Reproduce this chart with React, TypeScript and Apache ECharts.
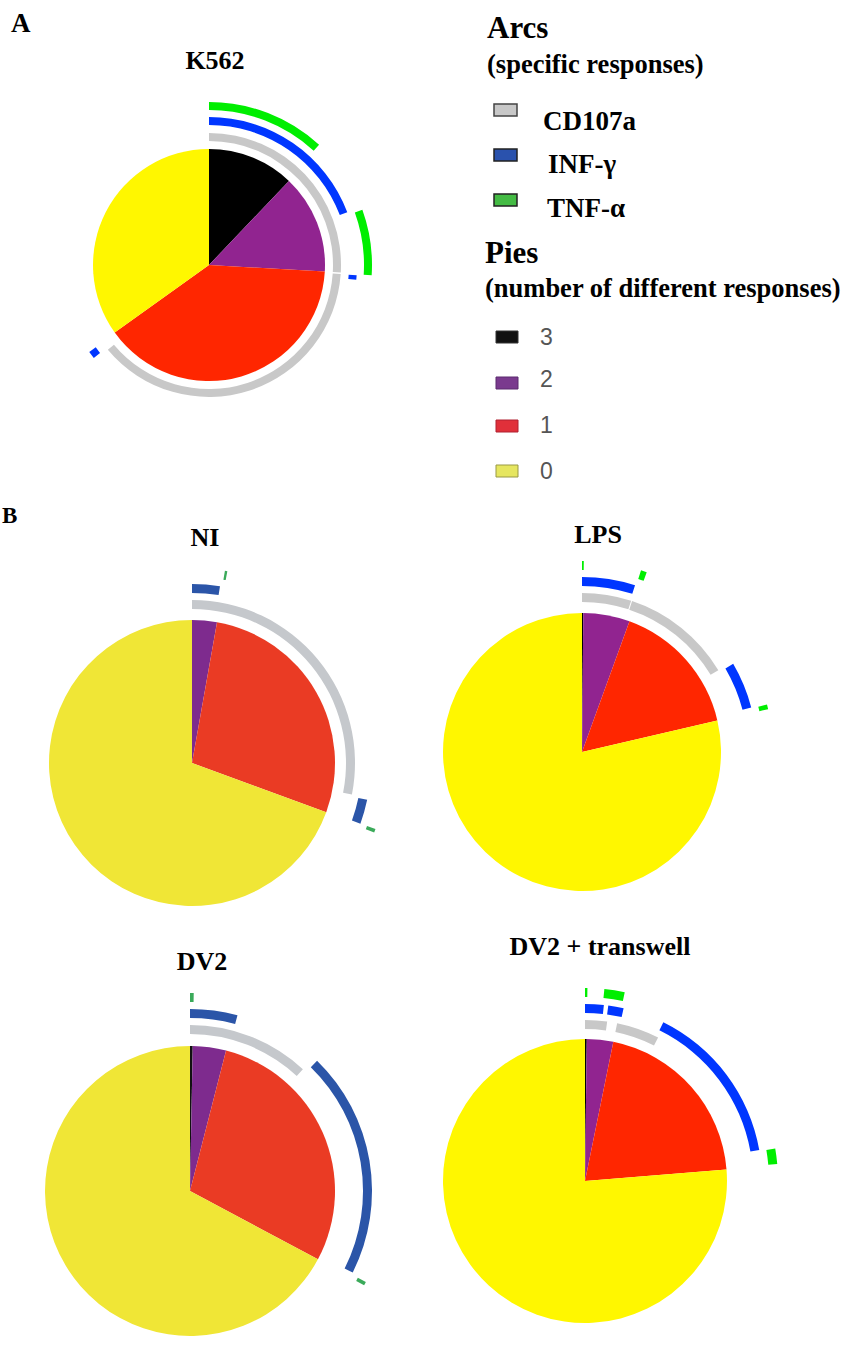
import React, { useEffect, useRef } from "react";
import * as echarts from "echarts";

// ---------- data ----------
const PANEL_TITLES = ["K562", "NI", "LPS", "DV2", "DV2 + transwell"];
const PIE_CATEGORIES = ["3", "2", "1", "0"];
const ARC_MARKERS = ["CD107a", "INF-γ", "TNF-α"];

// pie slices (% of cells) in order 3, 2, 1, 0 responses
const K562_PIE = [12.1, 13.8, 39.2, 34.9];
const NI_PIE = [0, 2.8, 27.8, 69.4];
const LPS_PIE = [0.15, 5.4, 15.8, 78.65];
const DV2_PIE = [0.3, 3.7, 28.8, 67.2];
const DV2TW_PIE = [0.2, 3.0, 20.5, 76.3];

// arcs: [start %, end %] of the pie covered by each marker
const K562_CD107A = [[0, 25.9], [26.1, 63.9]];
const K562_IFNG = [[0, 19.2], [26.1, 26.6], [64.2, 65.0]];
const K562_TNFA = [[0, 11.8], [19.5, 26.0]];

const NI_CD107A = [[0, 28.1]];
const NI_IFNG = [[0, 2.5], [28.3, 30.5]];
const NI_TNFA = [[2.7, 2.9], [30.5, 30.8]];

const LPS_CD107A = [[0, 5.0], [5.1, 16.4]];
const LPS_IFNG = [[0, 4.9], [16.6, 20.9]];
const LPS_TNFA = [[0, 0.15], [5.0, 5.5], [21.0, 21.4]];

const DV2_CD107A = [[0, 11.9]];
const DV2_IFNG = [[0, 4.2], [12.3, 32.4]];
const DV2_TNFA = [[0, 0.3], [32.6, 32.9]];

const DV2TW_CD107A = [[0, 2.2], [3.2, 7.5]];
const DV2TW_IFNG = [[0, 1.7], [2.1, 3.5], [7.3, 22.2]];
const DV2TW_TNFA = [[0, 0.2], [1.6, 3.3], [22.3, 23.6]];

const PIES = [K562_PIE, NI_PIE, LPS_PIE, DV2_PIE, DV2TW_PIE];
const ARCS = [
  [K562_CD107A, K562_IFNG, K562_TNFA],
  [NI_CD107A, NI_IFNG, NI_TNFA],
  [LPS_CD107A, LPS_IFNG, LPS_TNFA],
  [DV2_CD107A, DV2_IFNG, DV2_TNFA],
  [DV2TW_CD107A, DV2TW_IFNG, DV2TW_TNFA],
];

// ---------- layout & styles ----------
const BRIGHT = {
  pie: ["#000000", "#912490", "#ff2600", "#fff700"],
  arcs: ["#c8c8c8", "#0036ff", "#00ee00"],
};
const MUTED = {
  pie: ["#111111", "#7e2b8e", "#ea3b24", "#f0e636"],
  arcs: ["#c5c8cc", "#2b55a8", "#3baa5a"],
};
const LAYOUT = [
  { cx: 209, cy: 265, r: 116, rings: [[124, 132], [140, 148], [155, 163]], pal: BRIGHT, tx: 215, ty: 60 },
  { cx: 192, cy: 763, r: 143, rings: [[154, 163], [170, 179], [186, 195]], pal: MUTED, tx: 205, ty: 537 },
  { cx: 582, cy: 752, r: 139, rings: [[150, 159], [166, 175], [182, 191]], pal: BRIGHT, tx: 598, ty: 534 },
  { cx: 190, cy: 1191, r: 145, rings: [[157, 166], [173, 182], [189, 198]], pal: MUTED, tx: 202, ty: 961 },
  { cx: 585, cy: 1181, r: 142, rings: [[152, 161], [168, 177], [184, 193]], pal: BRIGHT, tx: 600, ty: 946 },
];

const SERIF = '"Liberation Serif", "Times New Roman", serif';
const SANS = '"Liberation Sans", Arial, sans-serif';

function arcData(segs: number[][], color: string) {
  const out: any[] = [];
  let pos = 0;
  for (const [s, e] of segs) {
    if (s > pos) out.push({ value: s - pos, itemStyle: { color: "rgba(0,0,0,0)", borderWidth: 0 } });
    out.push({ value: e - s, itemStyle: { color, borderWidth: 0 } });
    pos = e;
  }
  if (pos < 100) out.push({ value: 100 - pos, itemStyle: { color: "rgba(0,0,0,0)", borderWidth: 0 } });
  return out;
}

const COMMON_PIE = {
  type: "pie",
  silent: true,
  startAngle: 90,
  clockwise: true,
  minAngle: 0,
  avoidLabelOverlap: false,
  label: { show: false },
  labelLine: { show: false },
  emphasis: { disabled: true },
  animation: false,
};

function buildOption() {
  const series: any[] = [];
  PIES.forEach((vals, i) => {
    const L = LAYOUT[i];
    series.push({
      ...COMMON_PIE,
      name: PANEL_TITLES[i],
      center: [L.cx, L.cy],
      radius: [0, L.r],
      data: vals.map((v, k) => ({
        name: PIE_CATEGORIES[k],
        value: v,
        itemStyle: { color: L.pal.pie[k], borderWidth: 0 },
      })),
    });
    ARCS[i].forEach((segs, m) => {
      series.push({
        ...COMMON_PIE,
        name: PANEL_TITLES[i] + " " + ARC_MARKERS[m],
        center: [L.cx, L.cy],
        radius: L.rings[m],
        data: arcData(segs, L.pal.arcs[m]),
      });
    });
  });

  const graphic: any[] = [];
  const txt = (text: string, x: number, y: number, size: number, opts: any = {}) =>
    graphic.push({
      type: "text",
      x,
      y,
      silent: true,
      style: {
        text,
        fontSize: size,
        fontWeight: opts.weight ?? "bold",
        fontFamily: opts.family ?? SERIF,
        fill: opts.fill ?? "#000",
        align: opts.align ?? "left",
        verticalAlign: "middle",
      },
    });
  txt("A", 11, 23, 27);
  txt("B", 2, 515, 23);
  PANEL_TITLES.forEach((t, i) => txt(t, LAYOUT[i].tx, LAYOUT[i].ty, 26, { align: "center" }));

  // Arcs legend
  txt("Arcs", 487, 27, 31);
  txt("(specific responses)", 487, 64, 26.5);
  const arcSw = [
    { y: 104, fill: "#c8c8c8", stroke: "#444", tx: 543, ty: 121 },
    { y: 149, fill: "#2a52ad", stroke: "#222", tx: 548, ty: 164 },
    { y: 194, fill: "#44bb44", stroke: "#222", tx: 547, ty: 208 },
  ];
  ARC_MARKERS.forEach((m, i) => {
    const s = arcSw[i];
    graphic.push({
      type: "rect",
      silent: true,
      shape: { x: 494, y: s.y, width: 23, height: 12 },
      style: { fill: s.fill, stroke: s.stroke, lineWidth: 1.5 },
    });
    txt(m, s.tx, s.ty, 27);
  });

  // Pies legend
  txt("Pies", 485, 252, 31);
  txt("(number of different responses)", 485, 288, 26.5);
  const pieSw = [
    { y: 331, fill: "#111111", stroke: "#333" },
    { y: 377, fill: "#7a3a8e", stroke: "#5a2a6e" },
    { y: 420, fill: "#e0303a", stroke: "#b02030" },
    { y: 465, fill: "#e6e660", stroke: "#999944" },
  ];
  const pieTy = [337, 379, 425, 471];
  PIE_CATEGORIES.forEach((c, i) => {
    const s = pieSw[i];
    graphic.push({
      type: "rect",
      silent: true,
      shape: { x: 496, y: s.y, width: 22, height: 12 },
      style: { fill: s.fill, stroke: s.stroke, lineWidth: 1 },
    });
    txt(c, 540, pieTy[i], 23, { weight: "normal", family: SANS, fill: "#555" });
  });

  return { animation: false, backgroundColor: "#ffffff", series, graphic };
}

export default function App() {
  const ref = useRef<HTMLDivElement>(null);
  useEffect(() => {
    if (!ref.current) return;
    const chart = echarts.init(ref.current, undefined, { renderer: "svg" });
    chart.setOption(buildOption() as any);
    return () => chart.dispose();
  }, []);
  return (
    <div
      ref={ref}
      style={{ position: "absolute", left: 0, top: 0, width: 848, height: 1358, background: "#fff" }}
    />
  );
}
